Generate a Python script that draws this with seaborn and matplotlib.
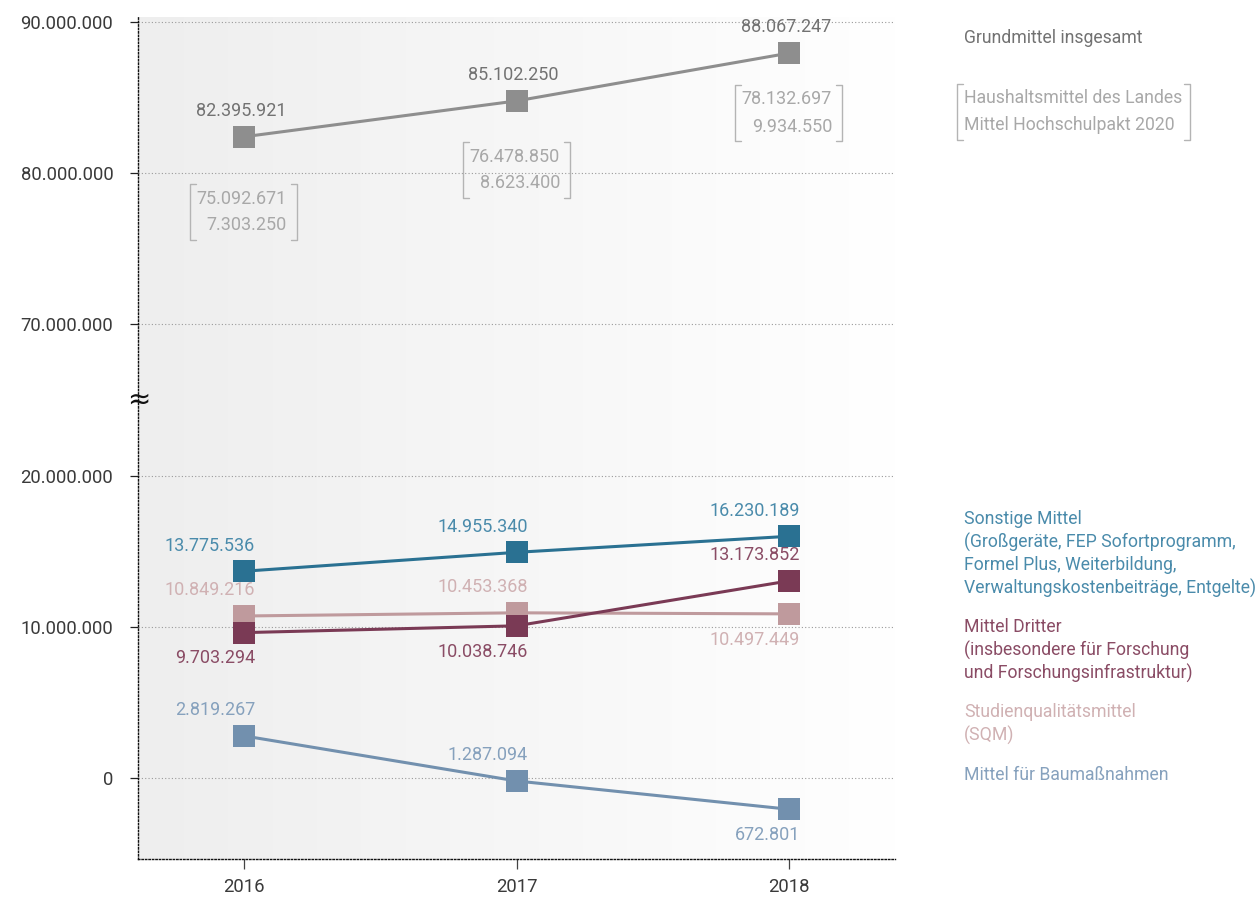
import numpy as np
import pandas as pd
import matplotlib
matplotlib.use("Agg")
import matplotlib.pyplot as plt
from matplotlib.colors import LinearSegmentedColormap
import seaborn as sns

# ---------------- data ----------------
years = [2016, 2017, 2018]
grund_vals = [82395921, 85102250, 88067247]
haushalt_vals = [75092671, 76478850, 78132697]
hsp_vals = [7303250, 8623400, 9934550]
sonstige_vals = [13775536, 14955340, 16230189]
dritter_vals = [9703294, 10038746, 13173852]
sqm_vals = [10849216, 10453368, 10497449]
bau_vals = [2819267, 1287094, 672801]

# marker heights as drawn in the reference picture (values on the axis scale)
grund_drawn = [82.41e6, 84.78e6, 87.94e6]
sonstige_drawn = [13.68e6, 14.93e6, 15.99e6]
dritter_drawn = [9.62e6, 10.07e6, 13.04e6]
sqm_drawn = [10.72e6, 10.93e6, 10.86e6]
bau_drawn = [2.79e6, -0.19e6, -2.06e6]

ytick_vals = [90e6, 80e6, 70e6, 20e6, 10e6, 0]
ytick_labels = ["90.000.000", "80.000.000", "70.000.000", "20.000.000", "10.000.000", "0"]

BREAK_SHIFT = 40e6  # values above the axis break are shifted down by this


def disp(v):
    return v - BREAK_SHIFT if v > 45e6 else v


def fmt(v):
    return f"{v:,}".replace(",", ".")


FONT = "Roboto"
FS_NUM = 13
FS_TICK = 13.3
FS_LEG = 12.7
FW = "normal"
sns.set_theme(style="white")
plt.rcParams["font.family"] = [FONT, "DejaVu Sans"]

W, H = 1257, 899
fig = plt.figure(figsize=(W / 100, H / 100), dpi=100)
ax = fig.add_axes([138.3 / W, 1 - 859 / H, (895 - 138.3) / W, (859 - 17) / H])

ax.set_xlim(2015.612, 2018.389)
ax.set_ylim(-5.35e6, 50.33e6)

# background gradient
cmap = LinearSegmentedColormap.from_list("bg", ["#eeeeee", "#ffffff"])
grad = np.linspace(0, 1, 256).reshape(1, -1)
ax.imshow(grad, extent=[2015.612, 2018.389, -5.35e6, 50.33e6], aspect="auto",
          cmap=cmap, zorder=0, interpolation="bicubic")

# grid lines
for t in ytick_vals:
    ax.axhline(disp(t), color="#9a9a9a", lw=0.8, ls=(0, (1, 2)), zorder=1)

series = [
    ("grund", grund_drawn, grund_vals, "#8e8e8e", "#727272", "center"),
    ("bau", bau_drawn, bau_vals, "#7290ae", "#86a1bd", "right"),
    ("sqm", sqm_drawn, sqm_vals, "#bf9a9d", "#d0b1b3", "right"),
    ("dritter", dritter_drawn, dritter_vals, "#7a3a55", "#8a4c65", "right"),
    ("sonstige", sonstige_drawn, sonstige_vals, "#2a7192", "#4a8bab", "right"),
]
# label placement: +1 above, -1 below
label_side = {
    "grund": [1, 1, 1],
    "bau": [1, 1, -1],
    "sqm": [1, 1, -1],
    "dritter": [-1, -1, 1],
    "sonstige": [1, 1, 1],
}

z = 3
for name, drawn, vals, col, tcol, ha in series:
    df = pd.DataFrame({"year": years, "y": [disp(v) for v in drawn]})
    sns.lineplot(data=df, x="year", y="y", color=col, lw=2.2, marker="s",
                 markersize=16, markeredgewidth=0, ax=ax, zorder=z)
    for i, (xx, yy) in enumerate(zip(df["year"], df["y"])):
        s = label_side[name][i]
        dx = -2 if ha == "center" else 8
        ax.annotate(fmt(vals[i]), (xx, yy), xytext=(dx, 18.5 * s),
                    textcoords="offset points", ha=ha, va="center",
                    color=tcol, fontsize=FS_NUM, fontweight=FW, zorder=10)
    z += 1

ax.set_xticks(years)
ax.set_xticklabels([str(y) for y in years])
ax.set_yticks([disp(t) for t in ytick_vals])
ax.set_yticklabels(ytick_labels)
ax.tick_params(axis="y", length=6, width=0.9, color="#222222", pad=12,
               labelsize=FS_TICK, labelcolor="#3a3a3a", left=True)
ax.tick_params(axis="x", length=7, width=0.9, color="#444444", pad=7,
               labelsize=FS_TICK, labelcolor="#3a3a3a", bottom=True, direction="out")
for lab in ax.get_xticklabels() + ax.get_yticklabels():
    lab.set_fontweight(FW)
for xtl in ax.xaxis.get_ticklines():
    xtl.set_linestyle(":")
ax.set_xlabel("")
ax.set_ylabel("")
for sp in ["top", "right"]:
    ax.spines[sp].set_visible(False)
for sp in ["left", "bottom"]:
    ax.spines[sp].set_visible(True)
    ax.spines[sp].set_color("#111111")
    ax.spines[sp].set_linestyle((0, (1, 1.5)))
    ax.spines[sp].set_linewidth(1.0)
ax.grid(False)

# axis break symbol
ax.text(2015.612, 25e6, "≈", ha="center", va="center", fontsize=20,
        color="#111111", family="DejaVu Sans", zorder=12, clip_on=False)

# bracketed sub-values (pixel anchors of the reference)
inv = ax.transData.inverted()


def px2data(xp, yp):
    return inv.transform((xp, H - yp))


BR_COL = "#a8a8a8"
bracket_boxes = [(244, 184, 240), (517, 142, 198), (789, 85, 141)]
for i, (xc, ytop, ybot) in enumerate(bracket_boxes):
    l1 = (ytop + ybot) / 2 - 13.5
    l2 = (ytop + ybot) / 2 + 13.5
    for txt, yp in [(fmt(haushalt_vals[i]), l1), (fmt(hsp_vals[i]), l2)]:
        xd, yd = px2data(xc + 43, yp)
        ax.text(xd, yd, txt, ha="right", va="center", color=BR_COL,
                fontsize=FS_NUM, fontweight=FW, zorder=10)
    for side, sgn in [(xc - 54, 1), (xc + 53, -1)]:
        pts = [px2data(side + 6 * sgn, ytop), px2data(side, ytop),
               px2data(side, ybot), px2data(side + 6 * sgn, ybot)]
        ax.plot([p[0] for p in pts], [p[1] for p in pts], color="#b4b4b4",
                lw=1.0, zorder=10, clip_on=False)


# right-hand legend text
def ftext(xp, yp, s, col):
    fig.text(xp / W, 1 - yp / H, s, color=col, fontsize=FS_LEG,
             fontweight=FW, ha="left", va="center")


ftext(964, 38, "Grundmittel insgesamt", "#727272")
ftext(964, 98, "Haushaltsmittel des Landes", BR_COL)
ftext(964, 125, "Mittel Hochschulpakt 2020", BR_COL)
for xb, sgn in [(957, 1), (1190, -1)]:
    xs = [xb + 6 * sgn, xb, xb, xb + 6 * sgn]
    ys = [84, 84, 140, 140]
    fig.add_artist(plt.Line2D([x / W for x in xs], [1 - y / H for y in ys],
                              color="#b4b4b4", lw=1.0, transform=fig.transFigure))

sonst_lines = ["Sonstige Mittel", "(Großgeräte, FEP Sofortprogramm,",
               "Formel Plus, Weiterbildung,",
               "Verwaltungskostenbeiträge, Entgelte)"]
for k, s in enumerate(sonst_lines):
    ftext(964, 519 + 23 * k, s, "#4a8bab")
dritt_lines = ["Mittel Dritter", "(insbesondere für Forschung",
               "und Forschungsinfrastruktur)"]
for k, s in enumerate(dritt_lines):
    ftext(964, 627 + 23 * k, s, "#8a4c65")
for k, s in enumerate(["Studienqualitätsmittel", "(SQM)"]):
    ftext(964, 712 + 23 * k, s, "#d0b1b3")
ftext(964, 775, "Mittel für Baumaßnahmen", "#86a1bd")

fig.savefig("out.png", dpi=100)
